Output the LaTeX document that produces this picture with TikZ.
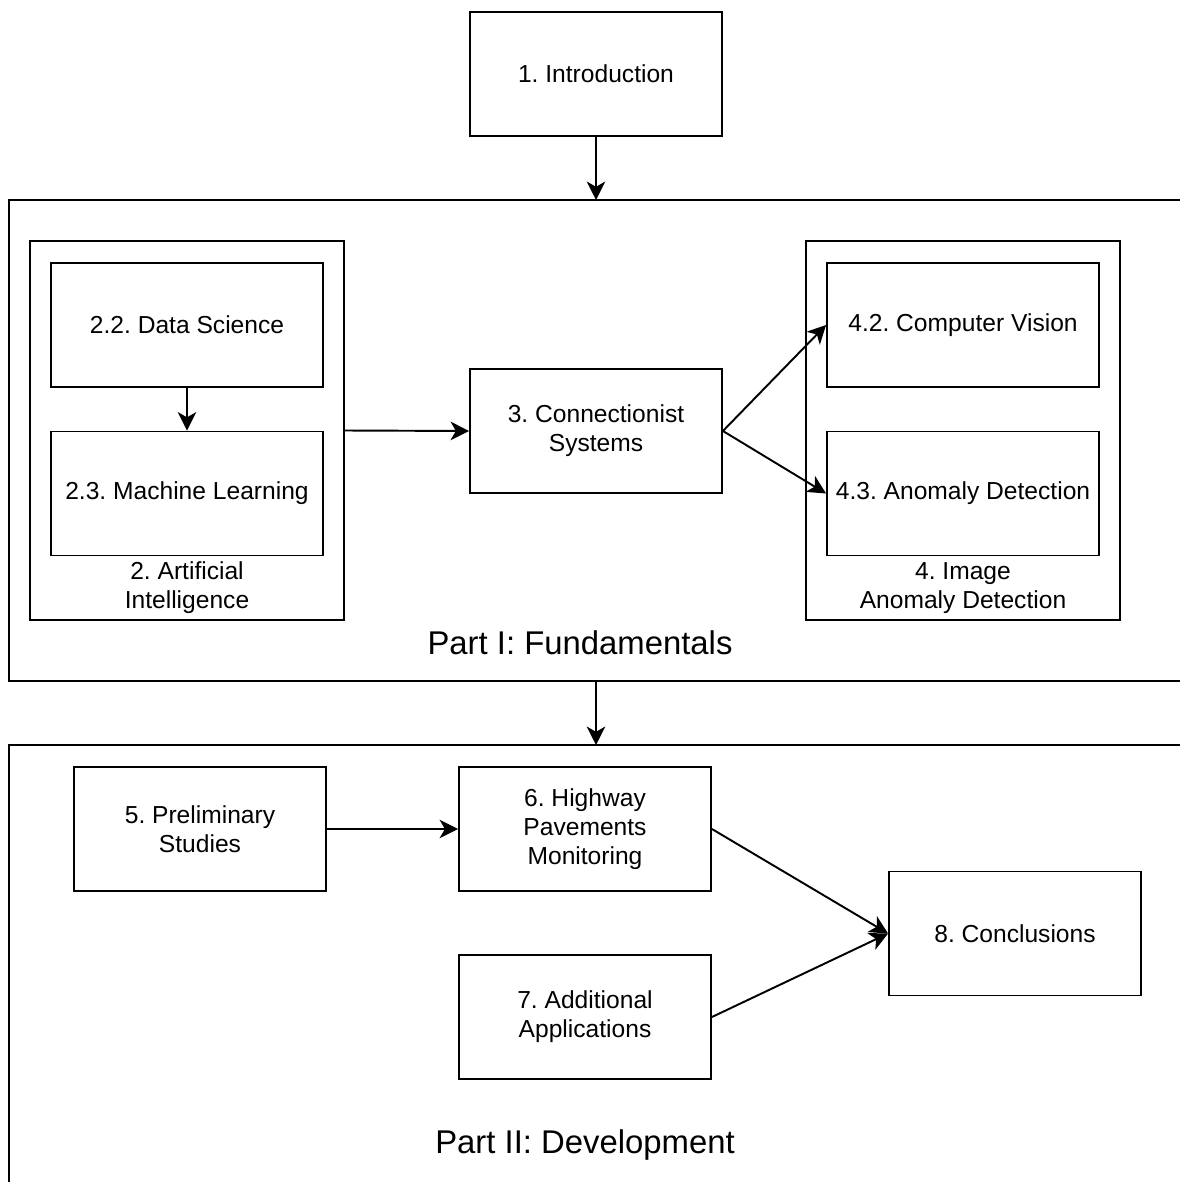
\documentclass[tikz,border=0pt]{standalone}
\usepackage{fontspec}
\setmainfont{Liberation Sans}
\usetikzlibrary{arrows.meta}
\begin{document}
\frenchspacing
\begin{tikzpicture}[x=0.02cm,y=-0.02cm,
  line width=1.1pt,
  txt/.style={font=\fontsize{14}{16.5}\selectfont, align=center},
  box/.style={draw, txt, inner sep=0pt, minimum width=5.04cm, minimum height=2.48cm},
  widebox/.style={box, minimum width=5.44cm},
  group/.style={draw, inner sep=0pt, minimum width=6.28cm, minimum height=7.58cm},
  parttitle/.style={font=\fontsize{18.7}{22}\selectfont},
  arr/.style={-{Stealth[length=10.5pt,width=10.5pt,inset=3pt]}}
]
\useasboundingbox (0,0) rectangle (1179,1182);

% Part frames (open at right and bottom)
\draw (1185,200) -- (9,200) -- (9,681) -- (1185,681);
\draw (1185,745) -- (9,745) -- (9,1188);
\coordinate (p1top) at (596,200);
\coordinate (p1bot) at (596,681);
\coordinate (p2top) at (596,745);
\node[parttitle] (p1title) at (580,643) {Part I: Fundamentals};
\node[parttitle] (p2title) at (585,1145) {Part II: Development};

% Introduction
\node[box] (intro) at (596,74) {1. Introduction};

% Chapter 2 group
\node[group] (ai) at (187,430.5) {};
\node[widebox] (ds) at (187,325) {2.2. Data Science};
\node[widebox] (ml) at (187,493.5) {2.3. Machine Learning};
\node[txt] (ailabel) at (187,588) {2. Artificial\\Intelligence};

% Chapter 3
\node[box] (cs) at (596,431) {3. Connectionist\\Systems};

% Chapter 4 group
\node[group] (iad) at (963,430.5) {};
\node[widebox] (cv) at (963,325) {4.2. Computer Vision};
\node[widebox] (ad) at (963,493.5) {4.3. Anomaly Detection};
\node[txt] (iadlabel) at (963,588) {4. Image\\Anomaly Detection};

% Part II chapters
\node[box] (pre) at (200,829) {5. Preliminary\\Studies};
\node[box] (hw) at (585,829) {6. Highway\\Pavements\\Monitoring};
\node[box] (add) at (585,1017) {7. Additional\\Applications};
\node[box] (conc) at (1015,933.5) {8. Conclusions};

% Connectors
\draw[arr] (intro.south) -- (p1top);
\draw[arr] (p1bot) -- (p2top);
\draw[arr] (ds.south) -- (ml.north);
\draw[arr] (ai.east) -- (cs.west);
\draw[arr] (cs.east) -- (cv.west);
\draw[arr] (cs.east) -- (ad.west);
\draw[arr] (pre.east) -- (hw.west);
\draw[arr] (hw.east) -- (conc.west);
\draw[arr] (add.east) -- (conc.west);
\end{tikzpicture}
\end{document}
